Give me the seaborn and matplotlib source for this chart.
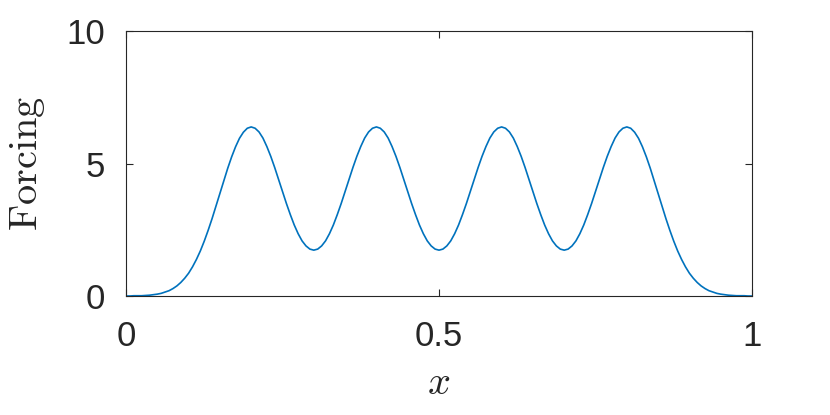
"""Forcing profile along x (four bumps)."""

import matplotlib
matplotlib.use("Agg")
import matplotlib.pyplot as plt
import pandas as pd
import seaborn as sns


# x positions (step 0.00625)
x_pos = [
    0.0, 0.00625, 0.0125, 0.01875, 0.025, 0.03125, 0.0375, 0.04375,
    0.05, 0.05625, 0.0625, 0.06875, 0.075, 0.08125, 0.0875, 0.09375,
    0.1, 0.10625, 0.1125, 0.11875, 0.125, 0.13125, 0.1375, 0.14375,
    0.15, 0.15625, 0.1625, 0.16875, 0.175, 0.18125, 0.1875, 0.19375,
    0.2, 0.20625, 0.2125, 0.21875, 0.225, 0.23125, 0.2375, 0.24375,
    0.25, 0.25625, 0.2625, 0.26875, 0.275, 0.28125, 0.2875, 0.29375,
    0.3, 0.30625, 0.3125, 0.31875, 0.325, 0.33125, 0.3375, 0.34375,
    0.35, 0.35625, 0.3625, 0.36875, 0.375, 0.38125, 0.3875, 0.39375,
    0.4, 0.40625, 0.4125, 0.41875, 0.425, 0.43125, 0.4375, 0.44375,
    0.45, 0.45625, 0.4625, 0.46875, 0.475, 0.48125, 0.4875, 0.49375,
    0.5, 0.50625, 0.5125, 0.51875, 0.525, 0.53125, 0.5375, 0.54375,
    0.55, 0.55625, 0.5625, 0.56875, 0.575, 0.58125, 0.5875, 0.59375,
    0.6, 0.60625, 0.6125, 0.61875, 0.625, 0.63125, 0.6375, 0.64375,
    0.65, 0.65625, 0.6625, 0.66875, 0.675, 0.68125, 0.6875, 0.69375,
    0.7, 0.70625, 0.7125, 0.71875, 0.725, 0.73125, 0.7375, 0.74375,
    0.75, 0.75625, 0.7625, 0.76875, 0.775, 0.78125, 0.7875, 0.79375,
    0.8, 0.80625, 0.8125, 0.81875, 0.825, 0.83125, 0.8375, 0.84375,
    0.85, 0.85625, 0.8625, 0.86875, 0.875, 0.88125, 0.8875, 0.89375,
    0.9, 0.90625, 0.9125, 0.91875, 0.925, 0.93125, 0.9375, 0.94375,
    0.95, 0.95625, 0.9625, 0.96875, 0.975, 0.98125, 0.9875, 0.99375,
    1.0,
]

# forcing values estimated from the curve
forcing = [
    0.00, 0.00, 0.01, 0.01, 0.01, 0.02, 0.03, 0.05,
    0.07, 0.10, 0.15, 0.20, 0.28, 0.38, 0.51, 0.67,
    0.86, 1.10, 1.38, 1.70, 2.07, 2.48, 2.92, 3.39,
    3.87, 4.35, 4.82, 5.25, 5.63, 5.95, 6.18, 6.33,
    6.38, 6.33, 6.19, 5.96, 5.64, 5.27, 4.85, 4.40,
    3.94, 3.49, 3.07, 2.68, 2.35, 2.08, 1.89, 1.77,
    1.73, 1.77, 1.89, 2.08, 2.35, 2.68, 3.07, 3.49,
    3.94, 4.40, 4.85, 5.27, 5.64, 5.96, 6.19, 6.33,
    6.38, 6.33, 6.19, 5.96, 5.64, 5.27, 4.85, 4.40,
    3.94, 3.49, 3.07, 2.68, 2.35, 2.08, 1.89, 1.77,
    1.73, 1.77, 1.89, 2.08, 2.35, 2.68, 3.07, 3.49,
    3.94, 4.40, 4.85, 5.27, 5.64, 5.96, 6.19, 6.33,
    6.38, 6.33, 6.19, 5.96, 5.64, 5.27, 4.85, 4.40,
    3.94, 3.49, 3.07, 2.68, 2.35, 2.08, 1.89, 1.77,
    1.73, 1.77, 1.89, 2.08, 2.35, 2.68, 3.07, 3.49,
    3.94, 4.40, 4.85, 5.27, 5.64, 5.96, 6.19, 6.33,
    6.38, 6.33, 6.18, 5.95, 5.63, 5.25, 4.82, 4.35,
    3.87, 3.39, 2.92, 2.48, 2.07, 1.70, 1.38, 1.10,
    0.86, 0.67, 0.51, 0.38, 0.28, 0.20, 0.15, 0.10,
    0.07, 0.05, 0.03, 0.02, 0.01, 0.01, 0.01, 0.00,
    0.00,
]

x_ticks = [0, 0.5, 1]
x_tick_labels = ["0", "0.5", "1"]
y_ticks = [0, 5, 10]
y_tick_labels = ["0", "5", "10"]

LINE_COLOR = "#0072BD"
INK = "#262626"


def main() -> None:
    sns.set_theme(style="white")
    plt.rcParams["font.family"] = ["Liberation Sans", "DejaVu Sans"]
    plt.rcParams["mathtext.fontset"] = "cm"

    df = pd.DataFrame({"x": x_pos, "forcing": forcing})

    fig = plt.figure(figsize=(8.3, 4.15), dpi=100)
    ax = fig.add_axes([126 / 830, 1 - 296 / 415, 626 / 830, 265 / 415])

    sns.lineplot(data=df, x="x", y="forcing", ax=ax, color=LINE_COLOR,
                 linewidth=1.2, estimator=None, sort=False)

    ax.set_xlim(0, 1)
    ax.set_ylim(0, 10)
    ax.set_xticks(x_ticks, x_tick_labels)
    ax.set_yticks(y_ticks, y_tick_labels)

    ax.tick_params(direction="in", length=5, width=0.8, color=INK,
                   labelsize=25, labelcolor=INK, top=True, right=True,
                   bottom=True, left=True)
    ax.tick_params(axis="x", pad=17)
    ax.tick_params(axis="y", pad=15)

    for side in ["left", "right", "top", "bottom"]:
        ax.spines[side].set_visible(True)
        ax.spines[side].set_color(INK)
        ax.spines[side].set_linewidth(0.8)

    ax.set_xlabel(r"$x$", fontsize=29, color=INK, labelpad=8)
    ax.set_ylabel(r"$\mathrm{Forcing}$", fontsize=29, color=INK, labelpad=14)
    ax.grid(False)

    fig.savefig("out.png", dpi=100, facecolor="white")
    plt.close(fig)


if __name__ == "__main__":
    main()
